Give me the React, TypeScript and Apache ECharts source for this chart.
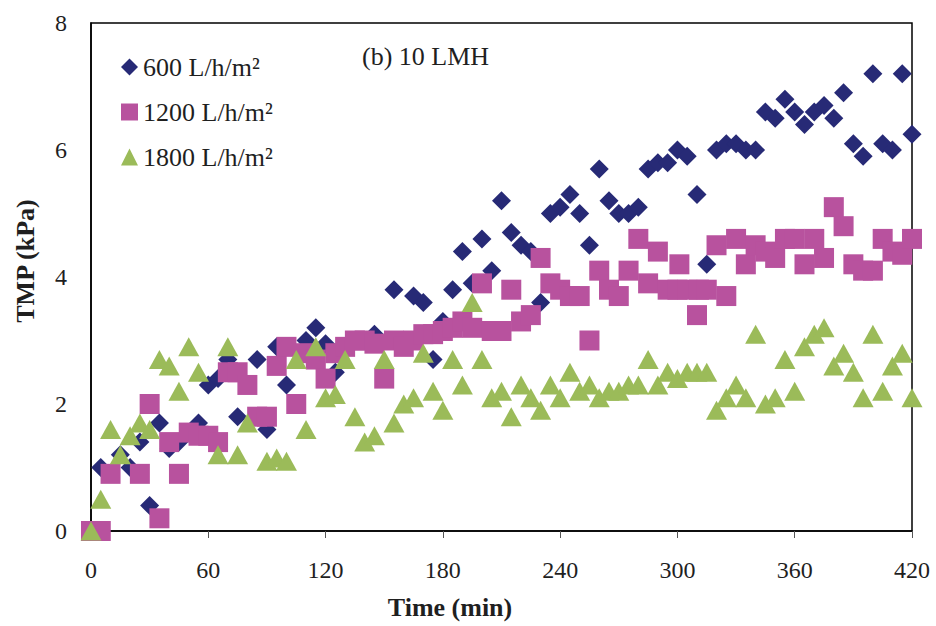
import React, { useEffect, useRef } from "react";
import * as echarts from "echarts";

const xTicks = [0, 60, 120, 180, 240, 300, 360, 420];
const yTicks = [0, 2, 4, 6, 8];

const seriesNames = ["600 L/h/m²", "1200 L/h/m²", "1800 L/h/m²"];

const tmp600: number[][] = [
  [0, 0], [5, 1.0], [15, 1.2], [20, 1.0], [25, 1.4], [30, 0.4], [35, 1.7], [40, 1.3], [45, 1.4], [55, 1.7],
  [60, 2.3], [65, 2.4], [70, 2.7], [75, 1.8], [85, 2.7], [90, 1.6], [95, 2.9], [100, 2.3], [110, 3.0], [115, 3.2],
  [120, 2.95], [125, 2.5], [130, 2.9], [135, 3.0], [145, 3.1], [155, 3.8], [165, 3.7], [170, 3.6], [175, 2.7], [180, 3.3],
  [185, 3.8], [190, 4.4], [195, 3.9], [200, 4.6], [205, 4.1], [210, 5.2], [215, 4.7], [220, 4.5], [225, 4.4], [230, 3.6],
  [235, 5.0], [240, 5.1], [245, 5.3], [250, 5.0], [255, 4.5], [260, 5.7], [265, 5.2], [270, 5.0], [275, 5.0], [280, 5.1],
  [285, 5.7], [290, 5.8], [295, 5.8], [300, 6.0], [305, 5.9], [310, 5.3], [315, 4.2], [320, 6.0], [325, 6.1], [330, 6.1],
  [335, 6.0], [340, 6.0], [345, 6.6], [350, 6.5], [355, 6.8], [360, 6.6], [365, 6.4], [370, 6.6], [375, 6.7], [380, 6.5],
  [385, 6.9], [390, 6.1], [395, 5.9], [400, 7.2], [405, 6.1], [410, 6.0], [415, 7.2], [420, 6.25],
];

const tmp1200: number[][] = [
  [0, 0], [5, 0], [10, 0.9], [25, 0.9], [30, 2.0], [35, 0.2], [40, 1.4], [45, 0.9], [50, 1.55], [55, 1.5],
  [60, 1.5], [65, 1.4], [70, 2.5], [75, 2.5], [80, 2.3], [85, 1.8], [90, 1.8], [95, 2.6], [100, 2.9], [105, 2.0],
  [110, 2.8], [115, 2.7], [120, 2.4], [125, 2.8], [130, 2.9], [135, 3.0], [140, 3.0], [145, 2.95], [150, 2.4], [155, 3.0],
  [160, 2.9], [165, 3.0], [170, 3.1], [175, 3.1], [180, 3.15], [185, 3.2], [190, 3.3], [195, 3.2], [200, 3.9], [205, 3.15],
  [210, 3.15], [215, 3.8], [220, 3.3], [225, 3.4], [230, 4.3], [235, 3.9], [240, 3.8], [245, 3.7], [250, 3.7], [255, 3.0],
  [260, 4.1], [265, 3.8], [270, 3.7], [275, 4.1], [280, 4.6], [285, 3.9], [290, 4.4], [295, 3.8], [300, 3.8], [301, 4.2],
  [305, 3.8], [310, 3.4], [311, 3.8], [315, 3.8], [320, 4.5], [325, 3.7], [330, 4.6], [335, 4.2], [340, 4.5], [345, 4.4],
  [350, 4.3], [355, 4.6], [360, 4.6], [365, 4.2], [370, 4.6], [375, 4.3], [380, 5.1], [385, 4.8], [390, 4.2], [395, 4.1],
  [400, 4.1], [405, 4.6], [410, 4.4], [415, 4.35], [420, 4.6],
];

const tmp1800: number[][] = [
  [0, 0], [5, 0.5], [10, 1.6], [15, 1.2], [20, 1.5], [25, 1.7], [30, 1.6], [35, 2.7], [40, 2.6], [45, 2.2],
  [50, 2.9], [55, 2.5], [65, 1.2], [70, 2.9], [75, 1.2], [80, 1.7], [90, 1.1], [95, 1.15], [100, 1.1], [105, 2.7],
  [110, 1.6], [115, 2.9], [120, 2.1], [125, 2.15], [130, 2.7], [135, 1.8], [140, 1.4], [145, 1.5], [150, 2.7], [155, 1.7],
  [160, 2.0], [165, 2.1], [170, 2.8], [175, 2.2], [180, 1.9], [185, 2.7], [190, 2.3], [195, 3.6], [200, 2.7], [205, 2.1],
  [210, 2.2], [215, 1.8], [220, 2.3], [225, 2.1], [230, 1.9], [235, 2.3], [240, 2.1], [245, 2.5], [250, 2.2], [255, 2.3],
  [260, 2.1], [265, 2.2], [270, 2.2], [275, 2.3], [280, 2.3], [285, 2.7], [290, 2.3], [295, 2.5], [300, 2.4], [305, 2.5],
  [310, 2.5], [315, 2.5], [320, 1.9], [325, 2.1], [330, 2.3], [335, 2.1], [340, 3.1], [345, 2.0], [350, 2.1], [355, 2.7],
  [360, 2.2], [365, 2.9], [370, 3.1], [375, 3.2], [380, 2.6], [385, 2.8], [390, 2.5], [395, 2.1], [400, 3.1], [405, 2.2],
  [410, 2.6], [415, 2.8], [420, 2.1],
];

const SERIF = '"Liberation Serif", "Times New Roman", serif';
const TEXT = "#1f1f1f";

export default function App() {
  const ref = useRef<HTMLDivElement>(null);

  useEffect(() => {
    if (!ref.current) return;
    const chart = echarts.init(ref.current, undefined, { renderer: "svg" });
    chart.setOption({
      animation: false,
      backgroundColor: "#ffffff",
      grid: {
        left: 91,
        right: 24,
        top: 23,
        bottom: 95,
        show: true,
        borderColor: "#000",
        borderWidth: 1.5,
        backgroundColor: "transparent",
      },
      legend: {
        orient: "vertical",
        left: 116,
        top: 49,
        padding: 5,
        itemWidth: 17,
        itemHeight: 17,
        itemGap: 19,
        textStyle: { fontFamily: SERIF, fontSize: 26, color: TEXT, lineHeight: 26 },
        data: [
          { name: seriesNames[0], icon: "diamond" },
          { name: seriesNames[1], icon: "rect" },
          { name: seriesNames[2], icon: "triangle" },
        ],
      },
      xAxis: {
        type: "value",
        min: xTicks[0],
        max: xTicks[xTicks.length - 1],
        interval: 60,
        axisLine: { show: true, onZero: false, lineStyle: { color: "#000", width: 1.5 } },
        axisTick: { show: true, inside: false, length: 7, lineStyle: { color: "#555", width: 1 } },
        axisLabel: { fontFamily: SERIF, fontSize: 24, color: TEXT, margin: 27 },
        splitLine: { show: false },
      },
      yAxis: {
        type: "value",
        min: yTicks[0],
        max: yTicks[yTicks.length - 1],
        interval: 2,
        axisLine: { show: true, onZero: false, lineStyle: { color: "#000", width: 1.5 } },
        axisTick: { show: false },
        axisLabel: { fontFamily: SERIF, fontSize: 24, color: TEXT, margin: 24 },
        splitLine: { show: false },
      },
      graphic: [
        {
          type: "text",
          x: 450,
          y: 607,
          style: {
            text: "Time (min)",
            font: `bold 26px ${SERIF}`,
            fill: TEXT,
            align: "center",
            verticalAlign: "middle",
          },
        },
        {
          type: "text",
          x: 25,
          y: 261,
          rotation: Math.PI / 2,
          style: {
            text: "TMP (kPa)",
            font: `bold 26px ${SERIF}`,
            fill: TEXT,
            align: "center",
            verticalAlign: "middle",
          },
        },
        {
          type: "text",
          x: 362,
          y: 56,
          style: {
            text: "(b) 10 LMH",
            font: `26px ${SERIF}`,
            fill: TEXT,
            align: "left",
            verticalAlign: "middle",
          },
        },
      ],
      series: [
        {
          name: seriesNames[0],
          type: "scatter",
          clip: false,
          symbol: "diamond",
          symbolSize: 19,
          itemStyle: { color: "#272a76", opacity: 1 },
          data: tmp600,
        },
        {
          name: seriesNames[1],
          type: "scatter",
          clip: false,
          symbol: "rect",
          symbolSize: 20,
          itemStyle: { color: "#b8529e", opacity: 1 },
          data: tmp1200,
        },
        {
          name: seriesNames[2],
          type: "scatter",
          clip: false,
          symbol: "triangle",
          symbolSize: [21, 19],
          itemStyle: { color: "#9bbb59", opacity: 1 },
          data: tmp1800,
        },
      ],
    });
    return () => chart.dispose();
  }, []);

  return (
    <div
      ref={ref}
      style={{ position: "fixed", left: 0, top: 0, width: 936, height: 626, background: "#fff" }}
    />
  );
}
